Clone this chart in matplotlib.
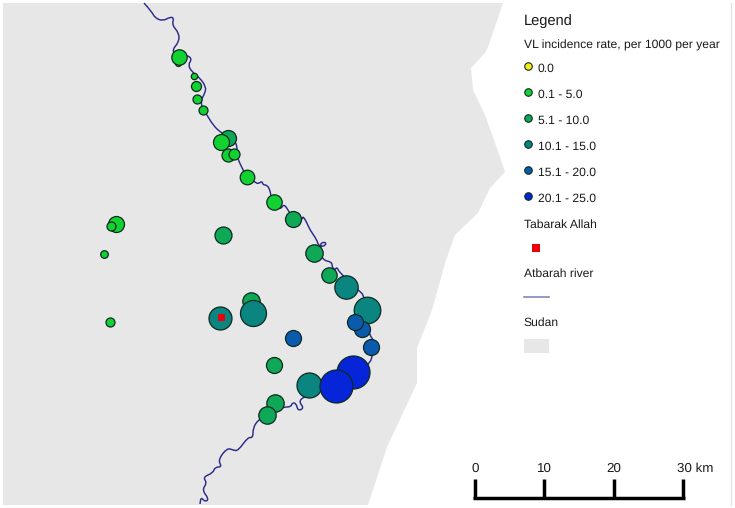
import matplotlib
matplotlib.use("Agg")
import matplotlib.pyplot as plt
from matplotlib.patches import PathPatch
from matplotlib.path import Path

plt.rcParams["font.family"] = ["Liberation Sans", "DejaVu Sans"]
plt.rcParams["text.hinting"] = "no_hinting"

# map coordinates
sudan_x = [3, 503, 488, 485, 471, 473, 485, 495, 500, 505, 490, 478, 455, 446, 432, 417, 417, 387, 368, 3]
sudan_y = [3, 3, 47, 53, 68, 90, 115, 143, 157, 172, 188, 213, 235, 260, 310, 348, 383, 447, 505, 505]

river_x = [144, 152, 155, 163, 170, 174, 172, 179, 179, 172, 176, 187, 192, 188, 192, 200, 206, 205, 201,
           202, 207, 213, 220, 230, 237, 237, 242, 247, 255, 258, 262, 263, 267, 270, 271, 274, 280, 284,
           288, 293, 302, 303, 307, 310, 317, 318, 323, 327, 322, 320, 322, 332, 332, 335, 337, 339, 358,
           365, 368, 375, 372, 370, 345, 317, 303, 299, 304, 298, 296, 292, 291, 283, 270, 258, 253, 253,
           248, 238, 233, 227, 218, 222, 215, 213, 203, 207, 202, 209, 205, 201, 200]
river_y = [3, 12, 18, 21, 17, 18, 25, 33, 42, 50, 55, 55, 59, 65, 72, 78, 87, 93, 100,
           108, 115, 125, 132, 138, 143, 157, 168, 177, 182, 184, 181, 185, 185, 190, 197, 202, 210, 204,
           210, 218, 220, 216, 223, 230, 240, 245, 247, 243, 242, 246, 260, 262, 267, 270, 267, 272, 290,
           296, 333, 342, 357, 363, 385, 392, 397, 402, 408, 411, 403, 403, 407, 407, 412, 420, 428, 438,
           437, 451, 450, 448, 460, 467, 467, 473, 477, 483, 490, 499, 502, 497, 504]

site_x = [178, 179.3, 194, 196, 196.7, 203, 227.7, 220.7, 228.3, 234, 247, 274.3, 293, 222.7,
          116, 111, 104.5, 110, 314.3, 329.3, 346, 367, 362.3, 355.3, 371, 293, 251, 253,
          220, 274.3, 309.3, 353.3, 336, 275.5, 267.3]
site_y = [63, 57.3, 75.7, 85.7, 99.3, 109.7, 138.3, 141.7, 155.3, 154.3, 177, 202.3, 218.7, 235,
          224, 226, 254, 322, 253, 275.3, 287.3, 309.7, 328.7, 322.3, 347, 338.3, 301, 313,
          318, 365, 385, 371.7, 386.3, 402.7, 415]
site_r = [3, 7.7, 3.2, 5, 4.5, 4.5, 8, 8, 6.5, 5.5, 7.3, 7.7, 8, 8.5,
          8, 4.5, 3.8, 4.5, 8.7, 7.7, 11.7, 13.3, 8, 8, 8, 8, 8.7, 13,
          11.5, 8, 12.5, 16.5, 16.5, 8.7, 8.7]
site_cls = [0, 1, 1, 1, 1, 1, 2, 1, 1, 1, 1, 1, 2, 2,
            1, 1, 1, 1, 2, 2, 3, 3, 4, 4, 4, 4, 2, 3,
            3, 2, 3, 5, 5, 2, 2]

town_x = [221]
town_y = [317]

class_labels = ["0.0", "0.1 - 5.0", "5.1 - 10.0", "10.1 - 15.0", "15.1 - 20.0", "20.1 - 25.0"]
class_colors = ["#f5ee10", "#12d232", "#0ea856", "#0a8580", "#0a5bad", "#0625d8"]
scale_labels = ["0", "10", "20", "30 km"]
scale_km = [0, 10, 20, 30]

GREY = "#e7e7e7"
INK = "#1a1a1a"
PX = 0.72  # points per pixel at dpi 100
FS = 8.75

fig = plt.figure(figsize=(7.35, 5.08), dpi=100)
ax = fig.add_axes([0, 0, 1, 1])
ax.set_xlim(0, 735)
ax.set_ylim(508, 0)
ax.axis("off")

ax.fill(sudan_x, sudan_y, color=GREY, lw=0, zorder=1)
ax.plot([731, 731], [3, 505], color="#e2e2e2", lw=1, zorder=1)

# round the river's corners: each read point is the control of a curve between midpoints
verts = [(river_x[0], river_y[0])]
codes = [Path.MOVETO]
for i in range(1, len(river_x) - 1):
    verts.append((river_x[i], river_y[i]))
    verts.append(((river_x[i] + river_x[i + 1]) / 2, (river_y[i] + river_y[i + 1]) / 2))
    codes += [Path.CURVE3, Path.CURVE3]
verts.append((river_x[-1], river_y[-1]))
codes.append(Path.LINETO)
ax.add_patch(PathPatch(Path(verts, codes), fill=False, edgecolor="#2b2b8c", lw=1.05, zorder=2))

for i in range(len(site_x)):
    ax.scatter(site_x[i], site_y[i], s=(2 * site_r[i] * PX) ** 2, color=class_colors[site_cls[i]],
               edgecolors="#0b2a20", linewidths=0.9, zorder=3 + i * 0.01)

ax.scatter(town_x, town_y, marker="s", s=(7 * PX) ** 2, color="#e8000b", linewidths=0, zorder=5)

# legend
ax.text(524, 21, "Legend", fontsize=10.5, color=INK, va="center")
ax.text(524, 45, "VL incidence rate, per 1000 per year", fontsize=FS, color=INK, va="center")
for i, lab in enumerate(class_labels):
    ly = 65.5 + i * 26
    ax.scatter(528, ly, s=(7.5 * PX) ** 2, color=class_colors[i], edgecolors="#0b2a20", linewidths=0.8, zorder=3)
    ax.text(538, ly + 3, lab, fontsize=FS, color=INK, va="center")
ax.text(524, 225, "Tabarak Allah", fontsize=FS, color=INK, va="center")
ax.scatter(536, 248, marker="s", s=(8 * PX) ** 2, color="#e8000b", linewidths=0)
ax.text(524, 274, "Atbarah river", fontsize=FS, color=INK, va="center")
ax.plot([524, 549], [297, 297], color="#8585bd", lw=1.2)
ax.text(523.5, 323, "Sudan", fontsize=FS, color=INK, va="center")
ax.fill([524, 549, 549, 524], [339, 339, 353, 353], color=GREY, lw=0)

# scale bar
for km, lab in zip(scale_km, scale_labels):
    sx = 475 + km * 6.95
    ax.plot([sx, sx], [479, 498], color="black", lw=2.5, solid_capstyle="butt")
    if km < 30:
        ax.text(sx, 469, lab, fontsize=9.6, color=INK, ha="center", va="center")
    else:
        ax.text(sx - 6.5, 469, lab, fontsize=9.6, color=INK, ha="left", va="center")
ax.plot([473.5, 685], [497.5, 497.5], color="black", lw=2.5, solid_capstyle="butt")

fig.savefig("out.png", dpi=100)
